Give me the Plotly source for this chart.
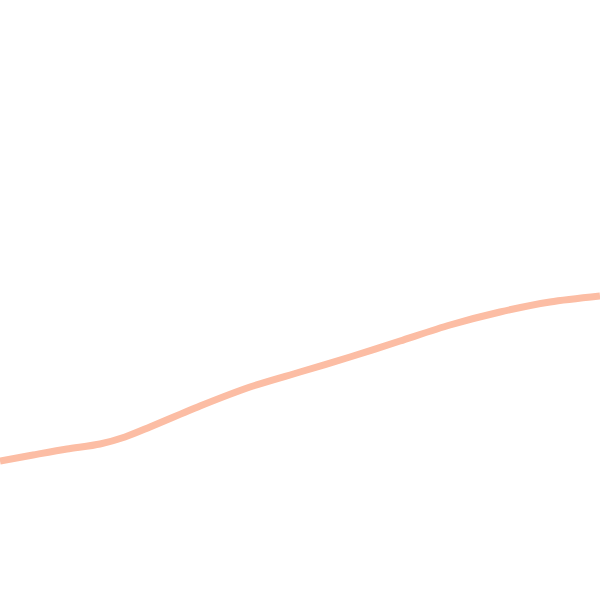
import plotly.graph_objects as go

x_vals = [0, 33, 67, 100, 125, 150, 200, 250, 300, 350, 400, 450, 500, 550, 600]
y_vals = [139, 145, 151, 156, 163, 173, 194, 213, 228, 243, 259, 275, 288, 298, 304]

fig = go.Figure()
fig.add_trace(go.Scatter(
    x=x_vals, y=y_vals, mode="lines",
    line=dict(color="#FCBDA4", width=7, shape="spline", smoothing=0.8),
    hoverinfo="skip", showlegend=False,
))
fig.update_layout(
    width=600, height=600,
    margin=dict(l=0, r=0, t=0, b=0),
    paper_bgcolor="white", plot_bgcolor="white",
    xaxis=dict(visible=False, range=[0, 600], fixedrange=True),
    yaxis=dict(visible=False, range=[0, 600], fixedrange=True),
)
fig.write_html("out.html", config={"displayModeBar": False},
               post_script="document.body.style.margin='0';")
